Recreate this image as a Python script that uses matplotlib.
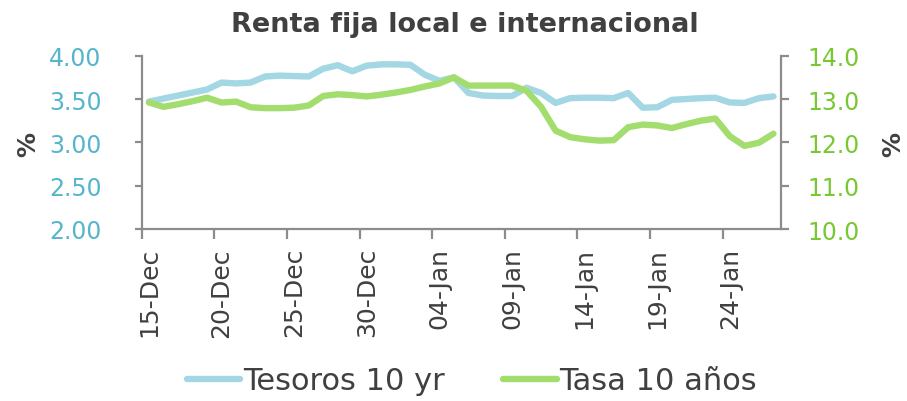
import matplotlib
matplotlib.use("Agg")
import matplotlib.pyplot as plt
import numpy as np
import pandas as pd

# daily series, 15-Dec to 27-Jan
dates = pd.date_range("2009-12-15", "2010-01-27", freq="D")

tesoros_10yr = [3.47, 3.505, 3.54, 3.575, 3.61, 3.69, 3.68, 3.69, 3.76, 3.77,
                3.765, 3.76, 3.85, 3.89, 3.82, 3.885, 3.90, 3.90, 3.895, 3.78,
                3.71, 3.75, 3.57, 3.54, 3.535, 3.535, 3.63, 3.57, 3.455, 3.51,
                3.515, 3.515, 3.51, 3.57, 3.40, 3.405, 3.49, 3.50, 3.51, 3.515,
                3.46, 3.455, 3.51, 3.53]

tasa_10_anos = [12.92, 12.82, 12.88, 12.95, 13.03, 12.92, 12.94, 12.81, 12.79, 12.79,
                12.80, 12.85, 13.07, 13.11, 13.09, 13.06, 13.10, 13.15, 13.21, 13.29,
                13.36, 13.50, 13.31, 13.31, 13.31, 13.31, 13.19, 12.82, 12.27, 12.12,
                12.07, 12.04, 12.05, 12.35, 12.41, 12.39, 12.33, 12.42, 12.50, 12.55,
                12.14, 11.92, 11.99, 12.20]

left_ticks = [2.0, 2.5, 3.0, 3.5, 4.0]
right_ticks = [10.0, 11.0, 12.0, 13.0, 14.0]
label_step = 5

blue_line = "#A3D7E3"
blue_text = "#55B6CB"
green_line = "#A2DD6E"
green_text = "#78C832"
gray = "#8C8C8C"
dark = "#404040"

plt.rcParams["font.family"] = "DejaVu Sans"

fig = plt.figure(figsize=(9.07, 4.02), dpi=100)
ax = fig.add_axes([141.7 / 907, 172 / 402, (780.7 - 141.7) / 907, (345.3 - 172) / 402])
ax2 = ax.twinx()

x = np.arange(len(dates)) + 0.5
l1, = ax.plot(x, tesoros_10yr, color=blue_line, lw=4.6, solid_capstyle="round",
              solid_joinstyle="round", label="Tesoros 10 yr")
l2, = ax2.plot(x, tasa_10_anos, color=green_line, lw=4.6, solid_capstyle="round",
               solid_joinstyle="round", label="Tasa 10 años")

ax.set_xlim(0, len(dates))
ax.set_ylim(left_ticks[0], left_ticks[-1])
ax2.set_ylim(right_ticks[0], right_ticks[-1])

# tick marks on day boundaries, labels centred on the day
pos = np.arange(0, len(dates), label_step)
ax.set_xticks(pos)
ax.set_xticklabels([])
ax.set_xticks(pos + 0.5, minor=True)
ax.set_xticklabels([d.strftime("%d-%b") for d in dates[::label_step]], minor=True,
                   rotation=90, fontsize=18, color=dark)
ax.tick_params(axis="x", which="major", length=7, width=1.6, color=gray, direction="out")
ax.tick_params(axis="x", which="minor", length=0, pad=13)

ax.set_yticks(left_ticks)
ax.set_yticklabels(["%.2f" % v for v in left_ticks], fontsize=17, color=blue_text)
ax.tick_params(axis="y", which="major", length=5, width=1.6, color=gray, pad=24)
ax2.set_yticks(right_ticks)
ax2.set_yticklabels(["%.1f" % v for v in right_ticks], fontsize=17, color=green_text)
ax2.tick_params(axis="y", length=6, width=1.6, color=gray, pad=13)

for a in (ax, ax2):
    a.spines["top"].set_visible(False)
    for side in ("left", "right", "bottom"):
        a.spines[side].set_color(gray)
        a.spines[side].set_linewidth(1.6)
ax.spines["right"].set_visible(False)
ax2.spines["left"].set_visible(False)
ax2.spines["bottom"].set_visible(False)

fig.text(465 / 907, 1 - 25 / 402, "Renta fija local e internacional", ha="center",
         va="center", fontsize=19.5, fontweight="bold", color=dark)
fig.text(28 / 907, 1 - 145 / 402, "%", rotation=90, ha="center", va="center",
         fontsize=18, fontweight="bold", color=dark)
fig.text(893 / 907, 1 - 145 / 402, "%", rotation=90, ha="center", va="center",
         fontsize=18, fontweight="bold", color=dark)

fig.legend(handles=[l1, l2], loc="center", bbox_to_anchor=(472 / 907, 1 - 382 / 402),
           ncol=2, frameon=False, fontsize=22, handlelength=1.75, handletextpad=0.1,
           columnspacing=1.9, labelcolor=dark)

fig.savefig("out.png", dpi=100)
